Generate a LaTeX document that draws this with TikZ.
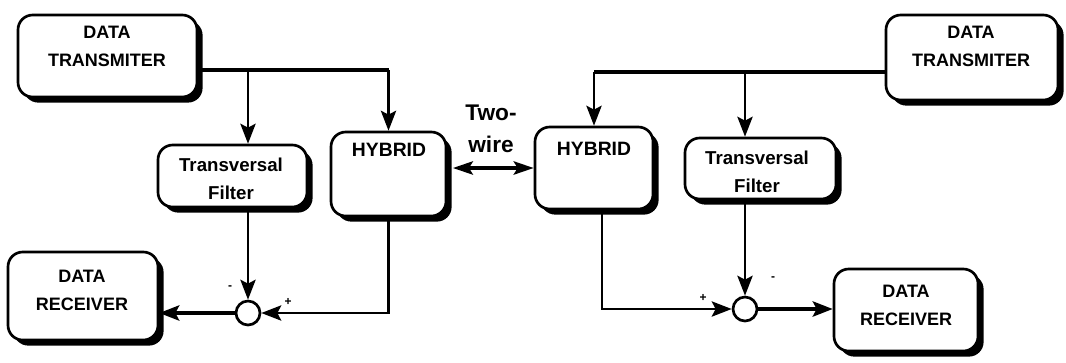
\documentclass[tikz,border=0pt]{standalone}
\usepackage{fontspec}
\setmainfont{Liberation Sans}
\usetikzlibrary{arrows.meta,shadows,calc}
\begin{document}
\begin{tikzpicture}[x=0.75pt,y=-0.75pt,
  box/.style={draw, line width=2pt, rounded corners=11pt, fill=white,
    drop shadow={shadow xshift=4.2pt, shadow yshift=-4.2pt, opacity=1, fill=black},
    inner sep=0pt},
  lbl/.style={font=\bfseries\fontsize{13.5}{21}\selectfont, align=center, inner sep=0pt},
  tlbl/.style={font=\bfseries\fontsize{14}{21}\selectfont, align=center, inner sep=0pt},
  hlbl/.style={font=\bfseries\fontsize{14.5}{18}\selectfont, inner sep=0pt},
  sgn/.style={font=\bfseries\fontsize{9}{9}\selectfont, inner sep=0pt},
  sum/.style={draw, circle, line width=2pt, minimum size=18pt, inner sep=0pt, fill=white},
  feed/.style={line width=2.4pt},
  tip/.style={Stealth[length=15pt,width=11.5pt,inset=3pt]},
  arr/.style={line width=1.6pt, -{Stealth[length=15pt,width=11.5pt,inset=3pt]}},
  barr/.style={line width=2.3pt, -{Stealth[length=15pt,width=11.5pt,inset=3pt]}},
  darr/.style={line width=2.4pt, {Stealth[length=15pt,width=10pt,inset=3pt]}-{Stealth[length=15pt,width=10pt,inset=3pt]}}
]
\useasboundingbox (0,0) rectangle (1066,362);

% boxes
\node[box, minimum width=134.25pt, minimum height=61.5pt] (ltx) at (107.5,56) {};
\node[lbl] (ltxt) at (107,46) {DATA\\TRANSMITER};
\node[box, minimum width=129pt, minimum height=63.75pt] (rtx) at (972,57.5) {};
\node[lbl] (rtxt) at (971,46) {DATA\\TRANSMITER};

\node[box, minimum width=111.75pt, minimum height=46.5pt] (ltf) at (232.5,176) {};
\node[tlbl] (ltft) at (231,179) {Transversal\\Filter};
\node[box, minimum width=113.25pt, minimum height=45.75pt] (rtf) at (760.5,168.5) {};
\node[tlbl] (rtft) at (757,172) {Transversal\\Filter};

\node[box, minimum width=86.25pt, minimum height=63pt] (lhy) at (388.5,174) {};
\node[hlbl] (lhyt) at (389,150) {HYBRID};
\node[box, minimum width=88.5pt, minimum height=61.5pt] (rhy) at (594,168) {};
\node[hlbl] (rhyt) at (594,149) {HYBRID};

\node[box, minimum width=112.5pt, minimum height=66pt] (lrx) at (83,296) {};
\node[lbl] (lrxt) at (82,290) {DATA\\RECEIVER};
\node[box, minimum width=108pt, minimum height=61.5pt] (rrx) at (906,310) {};
\node[lbl] (rrxt) at (906,305) {DATA\\RECEIVER};

% summing junctions
\node[sum] (lsum) at (248,313) {};
\node[sum] (rsum) at (745,309) {};

% labels
\node[font=\bfseries\fontsize{17}{24}\selectfont, align=center, inner sep=0pt] (tw) at (491,129) {Two-\\wire};
\node[sgn] (lm) at (230,288) {-};
\node[sgn] (lp) at (288,302) {+};
\node[sgn] (rp) at (703,298) {+};
\node[sgn] (rm) at (773,279) {-};

% left feed
\coordinate (lj) at ($(ltx.east)+(0,14)$);
\coordinate (lk) at (lj -| lhy.north);
\coordinate (lt) at (lj -| lsum.north);
\draw[feed] (lj) -- (lk);
\draw[arr] (lk) -- (lhy.north);
\draw[arr] (lt) -- (lt |- ltf.north);
\draw[arr] (lsum.north |- ltf.south) -- (lsum.north);
\draw[arr] (lhy.south) |- (lsum.east);
\draw[barr] (lsum.west) -- (lsum.west -| lrx.east);

% right feed
\coordinate (rj) at ($(rtx.west)+(0,14.5)$);
\coordinate (rk) at (rj -| rhy.north);
\coordinate (rt) at (rj -| rsum.north);
\draw[feed] (rj) -- (rk);
\draw[arr] (rk) -- (rhy.north);
\draw[arr] (rt) -- (rt |- rtf.north);
\draw[arr] (rsum.north |- rtf.south) -- (rsum.north);
\draw[arr] ([xshift=6pt]rhy.south) |- (rsum.west);
\draw[barr] (rsum.east) -- (rsum.east -| rrx.west);

% two-wire link
\draw[darr] ([xshift=4.2pt,yshift=4.5pt]lhy.east) -- ([yshift=4.5pt]lhy.east -| rhy.west);
\end{tikzpicture}
\end{document}
